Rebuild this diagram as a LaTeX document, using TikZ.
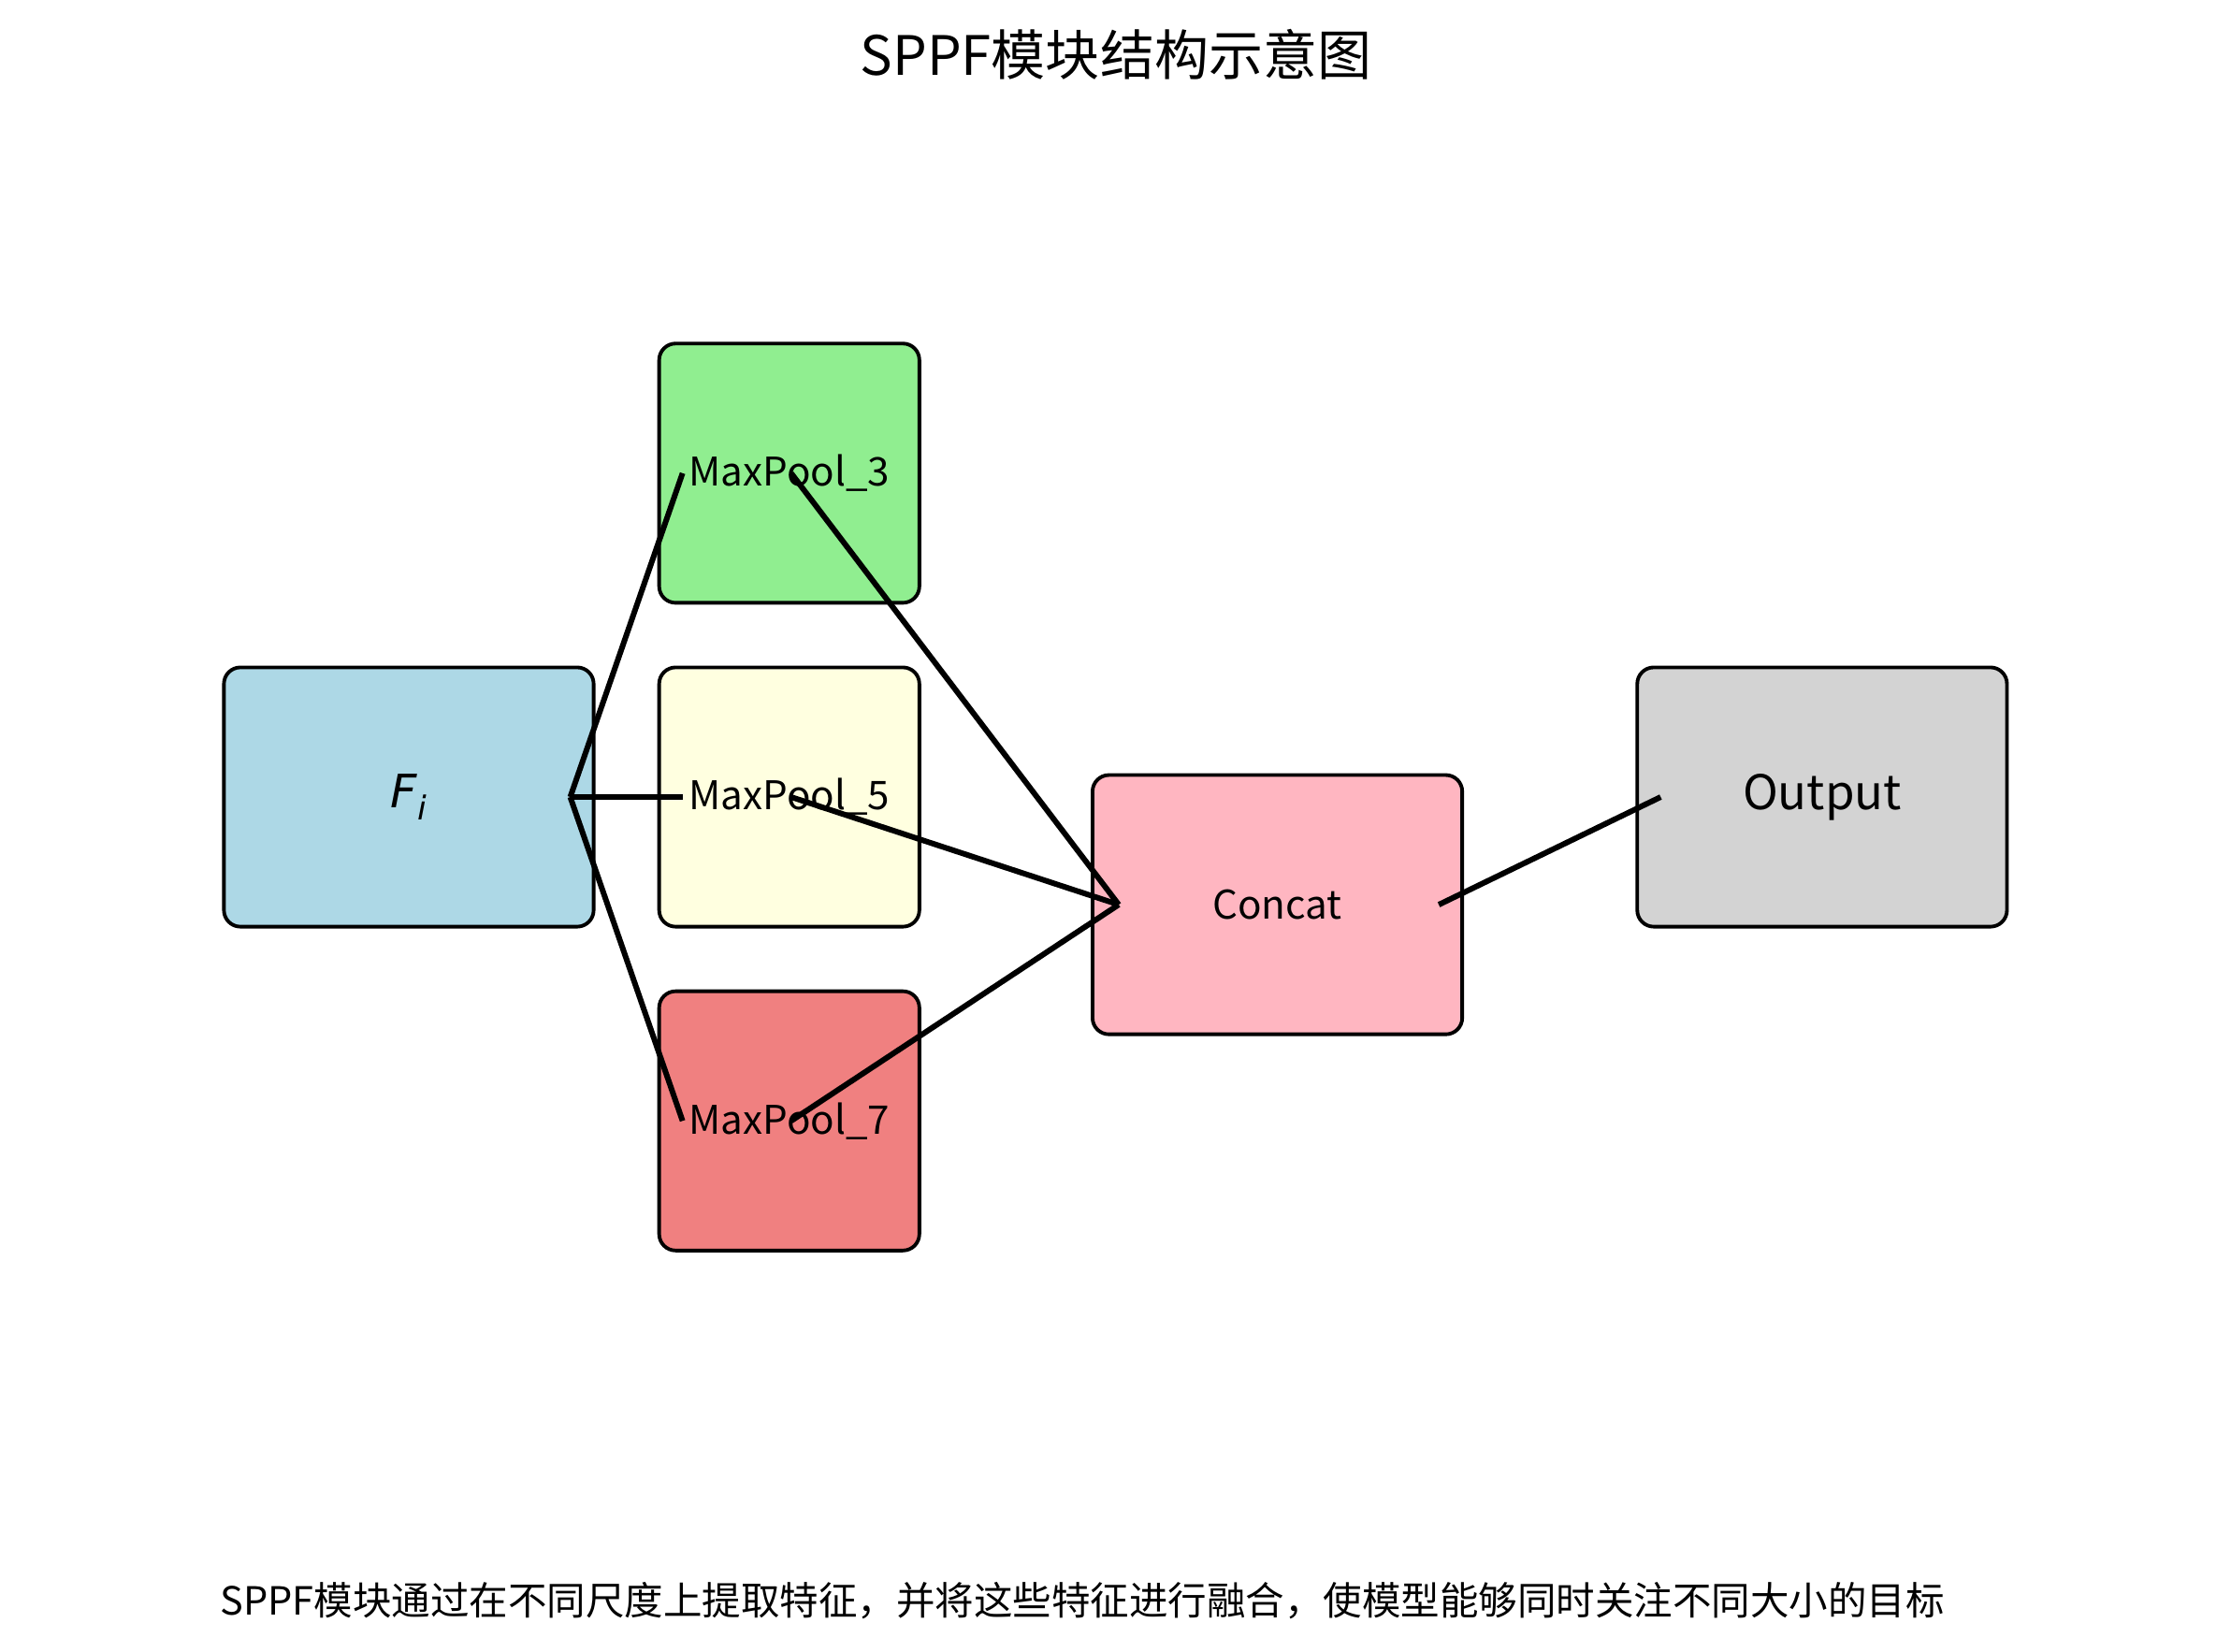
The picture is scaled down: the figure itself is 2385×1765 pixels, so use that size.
\documentclass[tikz,border=0pt]{standalone}
\usepackage{fontspec}
\setmainfont{Noto Sans CJK SC}
\newfontfamily\dvsans{DejaVu Sans}
\usetikzlibrary{positioning}

\definecolor{fiblue}{HTML}{ADD8E6}
\definecolor{poolgreen}{HTML}{90EE90}
\definecolor{poolyellow}{HTML}{FFFFE0}
\definecolor{poolred}{HTML}{F08080}
\definecolor{catpink}{HTML}{FFB6C1}
\definecolor{outgray}{HTML}{D3D3D3}

\begin{document}
\begin{tikzpicture}[
      x=0.01cm, y=-0.01cm,
      box/.style={draw,line width=1.1pt,rounded corners=5pt,inner sep=0pt,outer sep=0pt,align=center,minimum height=2.77cm},
      bigbox/.style={box,minimum width=3.95cm},
      poolbox/.style={box,minimum width=2.78cm,font=\fontsize{12}{14}\selectfont},
      link/.style={line width=1.7pt}
    ]
      \useasboundingbox (0,0) rectangle (2385,1765);
      \node[font=\fontsize{16.5}{20}\selectfont] (title) at (1193,58) {SPPF模块结构示意图};
      \node[bigbox,fill=fiblue] (fi) at (437,852) {\dvsans\itshape\fontsize{14}{16}\selectfont F\raisebox{-0.45ex}{\fontsize{10}{12}\selectfont i}};
      \node[poolbox,fill=poolyellow] (mp5) [right=0.7cm of fi] {MaxPool\_5};
      \node[poolbox,fill=poolgreen] (mp3) [above=0.69cm of mp5] {MaxPool\_3};
      \node[poolbox,fill=poolred] (mp7) [below=0.69cm of mp5] {MaxPool\_7};
      \node[bigbox,fill=catpink,font=\fontsize{12}{14}\selectfont] (concat) [right=1.85cm of mp5,yshift=-1.15cm] {Concat};
      \node[bigbox,fill=outgray,font=\fontsize{14.5}{17}\selectfont] (output) [right=1.87cm of concat,yshift=1.15cm] {Output};
      \node[font=\fontsize{11.8}{14}\selectfont] (note) at (1157,1711) {SPPF模块通过在不同尺度上提取特征，并将这些特征进行融合，使模型能够同时关注不同大小的目标};
      % connectors start a little inside the boxes
      \coordinate (fiout) at ([xshift=-0.25cm]fi.east);
      \coordinate (catin) at ([xshift=0.28cm]concat.west);
      \coordinate (catout) at ([xshift=-0.25cm]concat.east);
      \coordinate (outin) at ([xshift=0.25cm]output.west);
      \foreach \k in {3,5,7} {
        \draw[link] (fiout) -- ([xshift=-1.14cm]mp\k.center);
        \draw[link] ([xshift=0.02cm]mp\k.center) -- (catin);
      }
      \draw[link] (catout) -- (outin);
    \end{tikzpicture}
\end{document}
